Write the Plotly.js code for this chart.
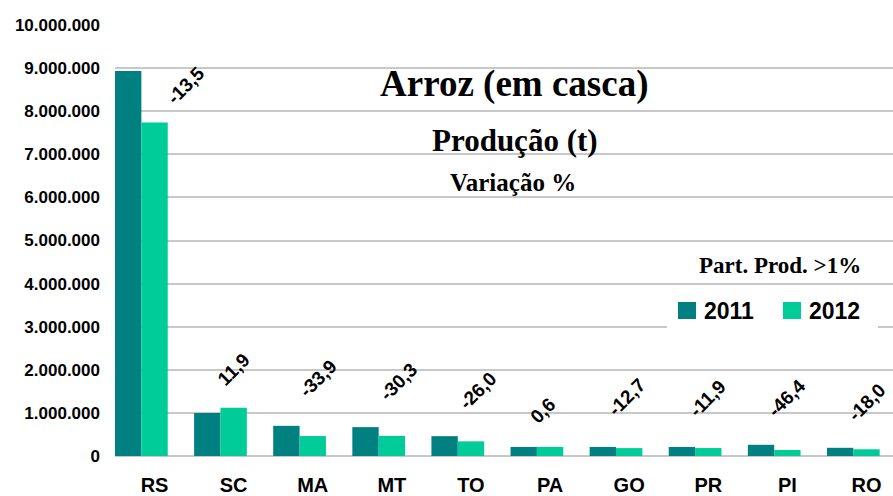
<!DOCTYPE html>
<html>
<head>
<meta charset="utf-8">
<script src="https://cdn.plot.ly/plotly-3.0.1.min.js"></script>
<style>
  html, body { margin: 0; padding: 0; background: #fff; }
  #chart { width: 893px; height: 496px; }
</style>
</head>
<body>
<div id="chart"></div>
<script>
// production (t) by state
const states = ["RS", "SC", "MA", "MT", "TO", "PA", "GO", "PR", "PI", "RO"];
const prod2011 = [8930000, 1000000, 700000, 670000, 460000, 210000, 210000, 210000, 260000, 190000];
const prod2012 = [7740000, 1120000, 463000, 467000, 340000, 211000, 183000, 185000, 140000, 156000];
const variation = ["-13,5", "11,9", "-33,9", "-30,3", "-26,0", "0,6", "-12,7", "-11,9", "-46,4", "-18,0"];
const years = ["2011", "2012"];

// label nudges in pixels (the labels were hand placed in the original)
const labelDx = [31, 0, 5, 7, 7, -7, -3, -1, 0, 0];
const labelLift = [37, 38, 58, 54, 51, 36, 51, 50, 52, 47];

const c2011 = "#008080";
const c2012 = "#00CC99";
const sans = "Liberation Sans, Arial, sans-serif";
const serif = "Liberation Serif, Times New Roman, serif";

// plot box in pixels
const W = 893, H = 496;
const box = { l: 115, r: 893, t: 25, b: 456 };
const px = (x) => (x - box.l) / (box.r - box.l);
const py = (y) => (box.b - y) / (box.b - box.t);

const barW = 1 / 3;
const traces = [
  {
    type: "bar", x: states, y: prod2011, name: years[0],
    marker: { color: c2011 }, width: barW, offset: -0.5,
    hoverinfo: "x+y", showlegend: false
  },
  {
    type: "bar", x: states, y: prod2012, name: years[1],
    marker: { color: c2012 }, width: barW, offset: -0.5 + barW,
    hoverinfo: "x+y", showlegend: false
  }
];

const annotations = variation.map((txt, i) => ({
  x: states[i], y: prod2012[i], xref: "x", yref: "y",
  text: "<b>" + txt + "</b>", showarrow: false, textangle: -45,
  xanchor: "center", yanchor: "middle",
  xshift: labelDx[i], yshift: labelLift[i],
  font: { family: sans, size: 19, color: "#000" }
}));

// titles
annotations.push(
  { xref: "paper", yref: "paper", x: px(514), y: py(84), text: "<b>Arroz (em casca)</b>",
    showarrow: false, xanchor: "center", yanchor: "middle",
    font: { family: serif, size: 37, color: "#000" } },
  { xref: "paper", yref: "paper", x: px(515), y: py(140), text: "<b>Produção (t)</b>",
    showarrow: false, xanchor: "center", yanchor: "middle",
    font: { family: serif, size: 31, color: "#000" } },
  { xref: "paper", yref: "paper", x: px(513), y: py(182), text: "<b>Variação %</b>",
    showarrow: false, xanchor: "center", yanchor: "middle",
    font: { family: serif, size: 25, color: "#000" } },
  { xref: "paper", yref: "paper", x: px(780), y: py(265), text: "<b>Part. Prod. >1%</b>",
    showarrow: false, xanchor: "center", yanchor: "middle",
    font: { family: serif, size: 23, color: "#000" } }
);

// hand drawn legend
const legendItems = [
  { name: years[0], color: c2011, sq: 678 },
  { name: years[1], color: c2012, sq: 783 }
];
const shapes = [
  { type: "rect", xref: "paper", yref: "paper", x0: px(667), x1: px(878), y0: py(290), y1: py(329),
    fillcolor: "#fff", line: { width: 0 }, layer: "above" }
];
legendItems.forEach((it) => {
  shapes.push({ type: "rect", xref: "paper", yref: "paper",
    x0: px(it.sq), x1: px(it.sq + 18), y0: py(302), y1: py(319),
    fillcolor: it.color, line: { width: 0 }, layer: "above" });
  annotations.push({ xref: "paper", yref: "paper", x: px(it.sq + 24), y: py(311),
    text: "<b>" + it.name + "</b>", showarrow: false, xanchor: "left", yanchor: "middle",
    font: { family: sans, size: 23, color: "#000" } });
});

const layout = {
  width: W, height: H,
  margin: { l: box.l, r: W - box.r, t: box.t, b: H - box.b, pad: 0 },
  paper_bgcolor: "#fff", plot_bgcolor: "#fff",
  separators: ",.",
  barmode: "overlay",
  showlegend: false,
  xaxis: {
    type: "category", range: [-0.5, 9.335],
    showgrid: false, zeroline: false, showline: false, ticks: "",
    ticklabelstandoff: 15,
    tickfont: { family: sans, size: 20, weight: "bold", color: "#000" }
  },
  yaxis: {
    range: [0, 10000000], dtick: 1000000, tickformat: ",d",
    showgrid: true, gridcolor: "#c8c8c8", gridwidth: 2,
    zeroline: true, zerolinecolor: "#c8c8c8", zerolinewidth: 2,
    showline: false, ticks: "",
    ticklabelstandoff: 14,
    tickfont: { family: sans, size: 17, weight: "bold", color: "#000" }
  },
  annotations: annotations,
  shapes: shapes
};

Plotly.newPlot("chart", traces, layout, { displayModeBar: false, staticPlot: true });
</script>
</body>
</html>
